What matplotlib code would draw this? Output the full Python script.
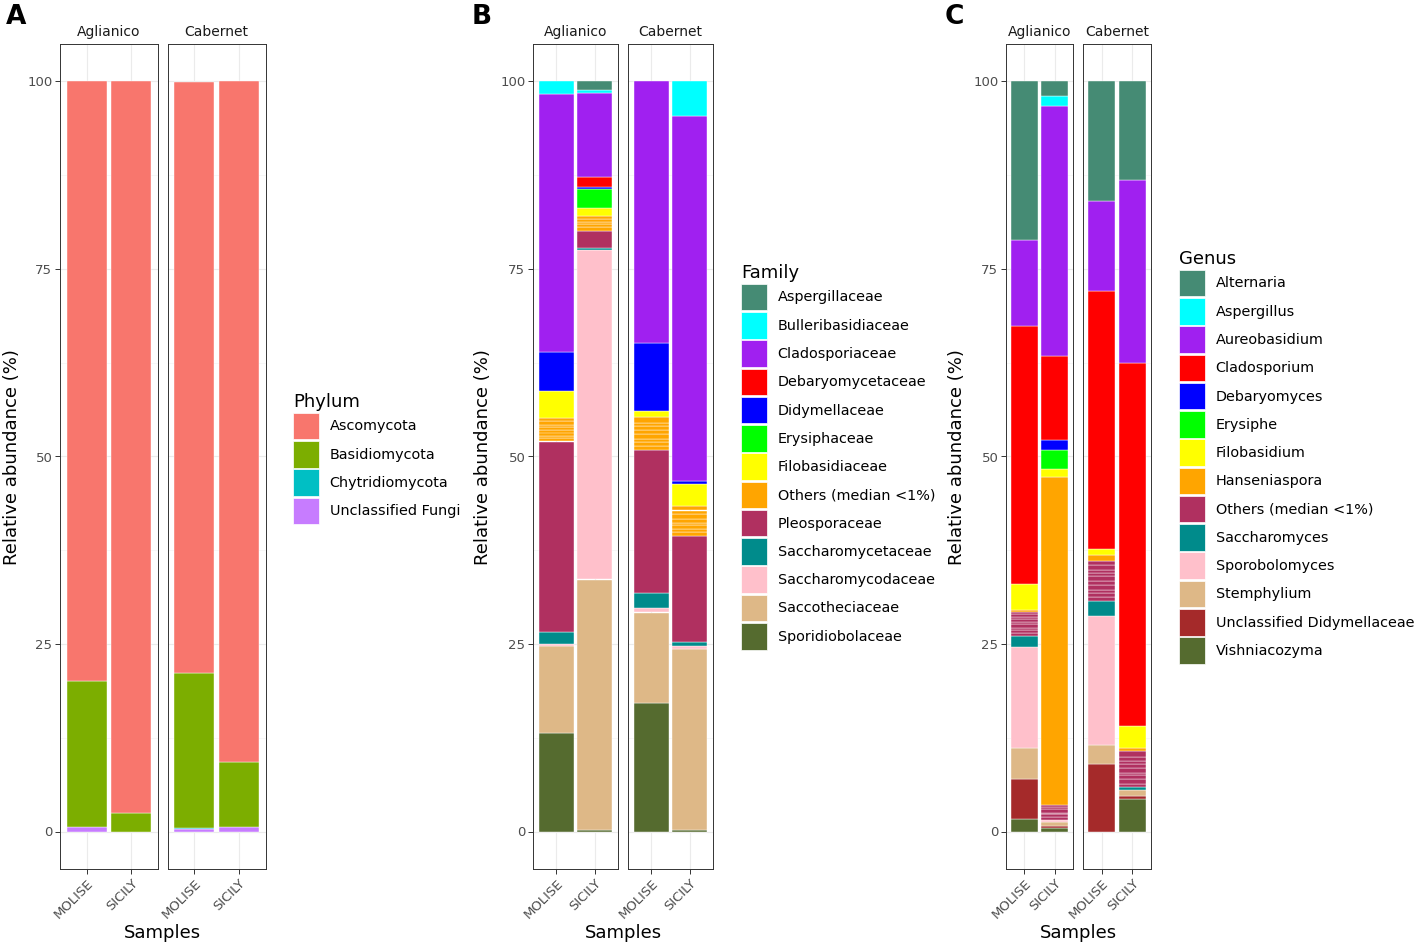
import matplotlib.pyplot as plt
from matplotlib.patches import Patch

W, H = 1417, 946
DPI = 100

cultivars = ["Aglianico", "Cabernet"]
sites = ["MOLISE", "SICILY"]
# value columns: Aglianico MOLISE, Aglianico SICILY, Cabernet MOLISE, Cabernet SICILY

phylum_names = ["Ascomycota", "Basidiomycota", "Chytridiomycota", "Unclassified Fungi"]
phylum_colors = ["#F8766D", "#7CAE00", "#00BFC4", "#C77CFF"]
phylum_values = [
    [79.9, 97.5, 78.8, 90.7],
    [19.5, 2.5, 20.7, 8.7],
    [0.0, 0.0, 0.2, 0.0],
    [0.6, 0.0, 0.3, 0.6],
]

family_names = ["Aspergillaceae", "Bulleribasidiaceae", "Cladosporiaceae", "Debaryomycetaceae",
                "Didymellaceae", "Erysiphaceae", "Filobasidiaceae", "Others (median <1%)",
                "Pleosporaceae", "Saccharomycetaceae", "Saccharomycodaceae", "Saccotheciaceae",
                "Sporidiobolaceae"]
family_colors = ["#458B74", "#00FFFF", "#A020F0", "#FF0000", "#0000FF", "#00FF00", "#FFFF00",
                 "#FFA500", "#B03060", "#008B8B", "#FFC0CB", "#DEB887", "#556B2F"]
family_values = [
    [0.0, 1.2, 0.0, 0.0],
    [1.7, 0.3, 0.0, 4.6],
    [34.3, 11.2, 34.9, 48.7],
    [0.0, 1.4, 0.0, 0.0],
    [5.3, 0.2, 9.0, 0.4],
    [0.0, 2.6, 0.0, 0.0],
    [3.6, 1.1, 0.8, 2.9],
    [3.1, 1.9, 4.5, 4.0],
    [25.4, 2.3, 19.0, 14.1],
    [1.6, 0.3, 2.0, 0.5],
    [0.2, 43.9, 0.6, 0.4],
    [11.6, 33.4, 12.0, 24.2],
    [13.2, 0.2, 17.2, 0.2],
]
# the many low-abundance families pooled into "Others", one list per bar
family_others = [
    [0.4, 0.3, 0.5, 0.3, 0.4, 0.3, 0.5, 0.4],
    [0.5, 0.4, 0.3, 0.4, 0.3],
    [0.6, 0.5, 0.4, 0.7, 0.5, 0.6, 0.4, 0.8],
    [0.5, 0.4, 0.6, 0.3, 0.5, 0.7, 0.4, 0.6],
]

genus_names = ["Alternaria", "Aspergillus", "Aureobasidium", "Cladosporium", "Debaryomyces",
               "Erysiphe", "Filobasidium", "Hanseniaspora", "Others (median <1%)", "Saccharomyces",
               "Sporobolomyces", "Stemphylium", "Unclassified Didymellaceae", "Vishniacozyma"]
genus_colors = ["#458B74", "#00FFFF", "#A020F0", "#FF0000", "#0000FF", "#00FF00", "#FFFF00",
                "#FFA500", "#B03060", "#008B8B", "#FFC0CB", "#DEB887", "#A52A2A", "#556B2F"]
genus_values = [
    [21.2, 2.0, 16.0, 13.1],
    [0.0, 1.3, 0.0, 0.0],
    [11.4, 33.3, 12.0, 24.4],
    [34.4, 11.2, 34.4, 48.4],
    [0.0, 1.3, 0.0, 0.0],
    [0.0, 2.6, 0.0, 0.0],
    [3.5, 1.1, 0.8, 2.9],
    [0.2, 43.6, 0.7, 0.5],
    [3.2, 2.0, 5.4, 4.7],
    [1.5, 0.0, 2.0, 0.5],
    [13.4, 0.3, 17.1, 0.0],
    [4.2, 0.5, 2.6, 0.7],
    [5.3, 0.3, 9.0, 0.4],
    [1.7, 0.5, 0.0, 4.4],
]
genus_others = [
    [0.3, 0.4, 0.3, 0.5, 0.3, 0.4, 0.3, 0.4, 0.3],
    [0.3, 0.4, 0.2, 0.5, 0.3, 0.3],
    [0.5, 0.6, 0.4, 0.7, 0.5, 0.6, 0.4, 0.5, 0.6, 0.6],
    [0.4, 0.6, 0.5, 0.3, 0.7, 0.5, 0.4, 0.6, 0.7],
]

fig = plt.figure(figsize=(W / DPI, H / DPI), dpi=DPI)
fig.patch.set_facecolor("white")


def box(x0, y0, x1, y1):
    # pixel box (top-left origin) -> figure fraction rect
    return [x0 / W, 1 - y1 / H, (x1 - x0) / W, (y1 - y0) / H]


def draw_panel(facets, names, colors, values, others=None):
    for j, ax in enumerate(facets):
        for k in range(2):
            col = 2 * j + k
            bottom = 0.0
            for i in reversed(range(len(names))):
                if others is not None and names[i].startswith("Others"):
                    parts = others[col]
                else:
                    parts = [values[i][col]]
                for v in parts:
                    if v <= 0:
                        continue
                    ax.bar(k + 1, v, bottom=bottom, width=0.9, color=colors[i],
                           edgecolor="white", linewidth=0.3)
                    bottom += v

        ax.set_xlim(0.4, 2.6)
        ax.set_ylim(-5, 105)
        ax.set_yticks([0, 25, 50, 75, 100])
        ax.set_yticks([12.5, 37.5, 62.5, 87.5], minor=True)
        ax.set_xticks([1, 2])
        ax.set_xticklabels(sites, rotation=45, ha="right", va="top",
                           rotation_mode="anchor")
        ax.grid(which="major", color="#EBEBEB", linewidth=0.8)
        ax.grid(which="minor", axis="y", color="#F2F2F2", linewidth=0.4)
        ax.set_axisbelow(True)
        for s in ax.spines.values():
            s.set_color("#333333")
            s.set_linewidth(0.7)
        ax.tick_params(which="major", length=3.5, width=0.7, color="#333333",
                       labelcolor="#4D4D4D", labelsize=9.5, pad=2)
        ax.tick_params(which="minor", length=0)
        ax.set_title(cultivars[j], fontsize=10, color="#1A1A1A", pad=6)
        if j == 1:
            ax.tick_params(axis="y", left=False, labelleft=False)


def add_legend(title, names, colors, x, y):
    handles = [Patch(facecolor=c, edgecolor="white", linewidth=0.5) for c in colors]
    fig.legend(handles, names, title=title, loc="upper left",
               bbox_to_anchor=(x / W, 1 - y / H), frameon=False,
               fontsize=10.4, title_fontsize=13, alignment="left",
               handlelength=1.82, handleheight=2.45, labelspacing=0.12,
               handletextpad=0.72, borderpad=0, borderaxespad=0)


panels = [
    ("A", [(60, 157.5), (167.5, 265.5)], phylum_names, phylum_colors, phylum_values, None,
     "Phylum", 293, 393, 6, 12),
    ("B", [(533, 618), (628, 713)], family_names, family_colors, family_values, family_others,
     "Family", 741, 264, 472, 483),
    ("C", [(1006, 1073), (1083, 1151)], genus_names, genus_colors, genus_values, genus_others,
     "Genus", 1179, 250, 945, 957),
]

for letter, spans, names, colors, values, others, ltitle, lx, ly, letter_x, ylab_x in panels:
    facets = [fig.add_axes(box(x0, 44, x1, 869)) for x0, x1 in spans]
    draw_panel(facets, names, colors, values, others)
    fig.text(letter_x / W, 1 - 4 / H, letter, fontsize=19, fontweight="bold",
             ha="left", va="top")
    fig.text(ylab_x / W, 1 - 457 / H, "Relative abundance (%)", fontsize=13,
             rotation=90, ha="center", va="center")
    mid = (spans[0][0] + spans[1][1]) / 2
    fig.text(mid / W, 1 - 933 / H, "Samples", fontsize=13, ha="center", va="center")
    add_legend(ltitle, names, colors, lx, ly)

fig.savefig("out.png", dpi=DPI, facecolor="white")
